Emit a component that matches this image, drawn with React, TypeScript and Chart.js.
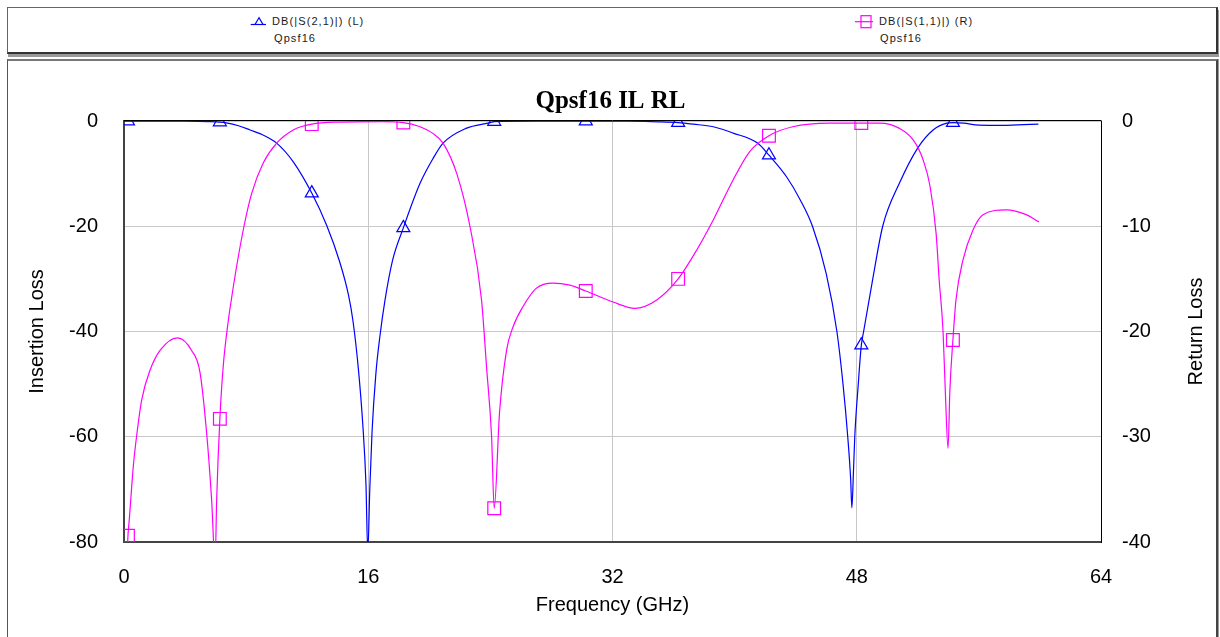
import React, { useEffect, useRef } from "react";
import { Chart, registerables } from "chart.js";

Chart.register(...registerables);

// ---- data ----
const freqTicks = [0, 16, 32, 48, 64];
const ilTicks = [0, -20, -40, -60, -80];
const rlTicks = [0, -10, -20, -30, -40];
const markerFreqs = [0.26, 6.28, 12.3, 18.3, 24.25, 30.25, 36.3, 42.25, 48.3, 54.3];

// DB(|S(2,1)|) (left axis, Insertion Loss)
const s21Freq = [
  0, 0.26, 2, 4, 5.5, 6.28, 6.7, 7.5, 8.25, 9.2,
  10, 11.1, 12.3, 13.3, 14.1, 14.7, 15.0, 15.35, 15.65, 15.85,
  15.97, 16.1, 16.25, 16.5, 16.76, 17.1, 17.6, 18.3, 19.4, 20.25,
  20.9, 22.4, 24.0, 24.25, 27, 30.25, 33, 35, 36.3, 37.3,
  38.6, 39.9, 41.5, 42.25, 43.4, 44.3, 45.1, 46.0, 46.7, 47.1,
  47.41, 47.6, 47.68, 47.78, 47.87, 48.1, 48.3, 48.45, 49.05, 49.7,
  50.8, 52.0, 53.0, 53.9, 54.3, 55, 56, 57.5, 58.5, 59.9,
];
const s21Db = [
  0, -0.02, -0.02, -0.05, -0.12, -0.2, -0.35, -0.9, -1.7, -2.8,
  -4.2, -7.8, -13.7, -20, -26.5, -33, -38, -47, -58, -69,
  -82, -70, -59, -48, -41, -34, -26.4, -20.3, -11.8, -7.1,
  -4.2, -1.4, -0.3, -0.1, -0.02, -0.02, -0.05, -0.15, -0.3, -0.6,
  -1.1, -2.3, -4.2, -6.5, -10.6, -15, -20, -29, -40, -50,
  -60, -68, -73.5, -67, -60, -50, -42.6, -40, -30, -20,
  -11.8, -5.1, -1.7, -0.4, -0.3, -0.4, -0.8, -0.85, -0.75, -0.6,
];

// DB(|S(1,1)|) (right axis, Return Loss)
const s11Freq = [
  0.2, 0.26, 0.35, 0.61, 0.83, 1.16, 1.7, 2.36, 3.5, 4.43,
  4.98, 5.41, 5.74, 5.97, 6.07, 6.28, 6.5, 6.83, 7.05, 7.38,
  7.86, 8.36, 9.12, 10, 11.09, 12.3, 14.1, 16.9, 18.3, 19.3,
  20.25, 20.9, 21.8, 22.66, 23.42, 23.75, 24.08, 24.25, 24.6, 25.06,
  25.5, 26.15, 27, 28.1, 29.2, 30.25, 32.04, 33.46, 34.9, 36.3,
  37.5, 38.6, 39.9, 40.99, 42.25, 43.8, 46.2, 48.3, 49.5, 50.8,
  51.7, 52.35, 52.8, 53.2, 53.4, 53.65, 53.8, 53.98, 54.1, 54.3,
  54.5, 54.96, 55.6, 56.27, 57.8, 59.1, 59.94,
];
const s11Db = [
  -41.5, -39.4, -37.8, -32.8, -29.9, -26.5, -23.7, -21.8, -20.6, -21.8,
  -23.9, -29.6, -36, -42, -36, -28.3, -23.3, -19, -16.8, -13.8,
  -10, -6.9, -4, -2.1, -0.85, -0.3, -0.1, -0.05, -0.15, -0.5,
  -1.2, -2.1, -5, -10, -17, -23.4, -30, -36.8, -27.7, -21.8,
  -19.5, -17.6, -15.9, -15.4, -15.6, -16.15, -17.2, -17.8, -17, -15,
  -12.3, -9.4, -5.6, -2.9, -1.4, -0.55, -0.2, -0.2, -0.2, -0.7,
  -1.8, -3.7, -6.2, -10.7, -15.1, -19.9, -25.6, -31.1, -25.6, -20.8,
  -17, -13.2, -10.4, -8.9, -8.45, -8.9, -9.6,
];

const BLUE = "#0000ff";
const MAGENTA = "#ff00ff";
const SANS = '"Liberation Sans", Arial, sans-serif';

const rightTitlePlugin = {
  id: "rightTitleAndFrame",
  afterDraw(chart: any) {
    const { ctx, chartArea } = chart;
    ctx.save();
    // top frame line
    ctx.strokeStyle = "#000";
    ctx.lineWidth = 1;
    ctx.beginPath();
    ctx.moveTo(chartArea.left, chartArea.top - 0.5);
    ctx.lineTo(chartArea.right + 0.5, chartArea.top - 0.5);
    ctx.stroke();
    // right axis title (reads bottom-to-top)
    ctx.fillStyle = "#000";
    ctx.font = `20px ${SANS}`;
    ctx.textAlign = "center";
    ctx.textBaseline = "middle";
    ctx.translate(1188, (chartArea.top + chartArea.bottom) / 2);
    ctx.rotate(-Math.PI / 2);
    ctx.fillText("Return Loss", 0, 0);
    ctx.restore();
  },
};

export default function App() {
  const ref = useRef<HTMLCanvasElement>(null);

  useEffect(() => {
    const isMarker = (c: any) => c.raw && markerFreqs.includes(c.raw.x);
    const chart = new Chart(ref.current as HTMLCanvasElement, {
      type: "line",
      data: {
        datasets: [
          {
            label: "DB(|S(2,1)|) (L)",
            data: s21Freq.map((f, i) => ({ x: f, y: s21Db[i] })),
            yAxisID: "y",
            borderColor: BLUE,
            borderWidth: 1.2,
            cubicInterpolationMode: "monotone",
            pointStyle: "triangle",
            pointRadius: (c: any) => (isMarker(c) ? 7.5 : 0),
            pointBorderColor: BLUE,
            pointBackgroundColor: "rgba(0,0,0,0)",
            pointBorderWidth: 1.2,
            fill: false,
            order: 2,
          },
          {
            label: "DB(|S(1,1)|) (R)",
            data: s11Freq.map((f, i) => ({ x: f, y: s11Db[i] })),
            yAxisID: "y2",
            borderColor: MAGENTA,
            borderWidth: 1.2,
            cubicInterpolationMode: "monotone",
            pointStyle: "rect",
            pointRadius: (c: any) => (isMarker(c) ? 9 : 0),
            pointBorderColor: MAGENTA,
            pointBackgroundColor: "rgba(0,0,0,0)",
            pointBorderWidth: 1.2,
            fill: false,
            order: 1,
          },
        ],
      },
      options: {
        responsive: false,
        animation: false,
        events: [],
        layout: { padding: 0 },
        plugins: {
          legend: { display: false },
          tooltip: { enabled: false },
          title: {
            display: true,
            text: "Qpsf16 IL RL",
            color: "#000",
            font: { family: '"Liberation Serif", "Times New Roman", serif', size: 25, weight: "bold" },
            padding: { top: 26, bottom: 4 },
          },
        },
        scales: {
          x: {
            type: "linear",
            min: 0,
            max: 64,
            afterBuildTicks: (s: any) => {
              s.ticks = freqTicks.map((v) => ({ value: v }));
            },
            afterFit: (s: any) => {
              s.height = 95;
            },
            grid: { color: "#c8c8c8", lineWidth: 1, drawTicks: false },
            border: { color: "#444", width: 2 },
            ticks: { color: "#000", font: { family: SANS, size: 20 }, padding: 23, maxRotation: 0 },
            title: {
              display: true,
              text: "Frequency (GHz)",
              color: "#000",
              font: { family: SANS, size: 20 },
              padding: { top: 0, bottom: 20 },
            },
          },
          y: {
            type: "linear",
            position: "left",
            min: -80,
            max: 0,
            afterBuildTicks: (s: any) => {
              s.ticks = ilTicks.map((v) => ({ value: v }));
            },
            afterFit: (s: any) => {
              s.width = 116;
            },
            grid: { color: "#c8c8c8", lineWidth: 1, drawTicks: false },
            border: { color: "#444", width: 2 },
            ticks: { color: "#000", font: { family: SANS, size: 20 }, padding: 26 },
            title: {
              display: true,
              text: "Insertion Loss",
              color: "#000",
              font: { family: SANS, size: 20 },
              padding: { top: 17, bottom: 0 },
            },
          },
          y2: {
            type: "linear",
            position: "right",
            min: -40,
            max: 0,
            afterBuildTicks: (s: any) => {
              s.ticks = rlTicks.map((v) => ({ value: v }));
            },
            afterFit: (s: any) => {
              s.width = 112;
            },
            grid: { display: false, drawTicks: false },
            border: { color: "#000", width: 1 },
            ticks: { color: "#000", font: { family: SANS, size: 20 }, padding: 21 },
          },
        },
      },
      plugins: [rightTitlePlugin],
    } as any);
    return () => chart.destroy();
  }, []);

  const legendText: React.CSSProperties = {
    position: "absolute",
    fontFamily: SANS,
    fontSize: 11,
    letterSpacing: "1.1px",
    color: "#1a1a1a",
    lineHeight: "14px",
    whiteSpace: "nowrap",
  };

  return (
    <div
      style={{
        position: "absolute",
        left: 0,
        top: 0,
        width: 1220,
        height: 637,
        overflow: "hidden",
        background: "#fff",
      }}
    >
      {/* legend box */}
      <div
        style={{
          position: "absolute",
          left: 7,
          top: 7,
          width: 1208,
          height: 44,
          borderLeft: "1px solid #666",
          borderTop: "1px solid #666",
          borderRight: "2px solid #333",
          borderBottom: "2px solid #333",
          boxShadow: "1px 3px 0 #999",
          background: "#fff",
        }}
      />
      <svg style={{ position: "absolute", left: 248, top: 12, overflow: "visible" }} width={22} height={16}>
        <line x1={2.7} y1={12.5} x2={18} y2={12.5} stroke={BLUE} strokeWidth={1.2} />
        <polygon points="11,5.7 7,12.5 15,12.5" fill="none" stroke={BLUE} strokeWidth={1.2} />
      </svg>
      <div style={{ ...legendText, left: 272, top: 14 }}>DB(|S(2,1)|) (L)</div>
      <div style={{ ...legendText, left: 274, top: 31 }}>Qpsf16</div>

      <svg style={{ position: "absolute", left: 853, top: 12, overflow: "visible" }} width={22} height={18}>
        <line x1={2} y1={9.7} x2={20} y2={9.7} stroke={MAGENTA} strokeWidth={1.2} />
        <rect x={8} y={3.7} width={10} height={12} fill="none" stroke={MAGENTA} strokeWidth={1.2} />
      </svg>
      <div style={{ ...legendText, left: 879, top: 14 }}>DB(|S(1,1)|) (R)</div>
      <div style={{ ...legendText, left: 880, top: 31 }}>Qpsf16</div>

      {/* chart panel */}
      <div
        style={{
          position: "absolute",
          left: 7,
          top: 59,
          width: 1208,
          height: 600,
          borderLeft: "1px solid #555",
          borderTop: "2px solid #777",
          borderRight: "2px solid #444",
          boxShadow: "1px 0 0 #999",
          background: "#fff",
        }}
      />
      <canvas
        ref={ref}
        width={1205}
        height={576}
        style={{ position: "absolute", left: 8, top: 61, width: 1205, height: 576 }}
      />
    </div>
  );
}
